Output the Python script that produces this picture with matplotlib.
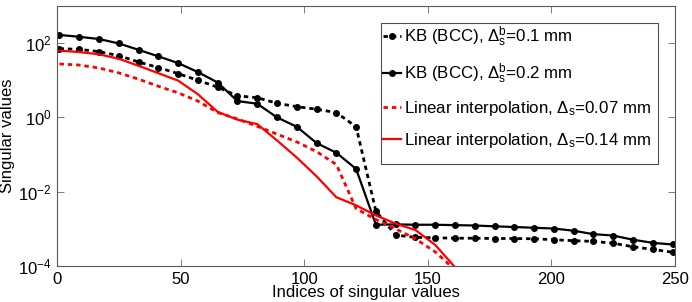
import numpy as np
import matplotlib
matplotlib.use("Agg")
import matplotlib.pyplot as plt
from matplotlib.patches import Rectangle

plt.rcParams['font.family'] = ['Liberation Sans', 'DejaVu Sans']
plt.rcParams['mathtext.default'] = 'regular'
plt.rcParams['font.size'] = 11

# indices (every 8th singular value)
idx_kb = list(range(1, 250, 8))
idx_lin = list(range(1, 162, 8))

kb_01 = [71, 68, 59, 46, 31, 22, 15.1, 10, 6.5, 3.8, 3.4, 2.4, 1.95, 1.66,
         1.35, 0.56, 3.0e-3, 6.8e-4, 5.9e-4, 5.75e-4, 5.6e-4, 5.6e-4, 5.5e-4,
         5.5e-4, 5.4e-4, 5.1e-4, 4.8e-4, 4.6e-4, 4.1e-4, 3.3e-4, 2.8e-4, 2.35e-4]
kb_02 = [166, 148, 129, 98, 66, 44, 29, 16.6, 8.7, 2.75, 2.34, 1.0, 0.56,
         0.204, 0.112, 0.041, 1.29e-3, 1.32e-3, 1.29e-3, 1.29e-3, 1.26e-3,
         1.23e-3, 1.17e-3, 1.12e-3, 1.07e-3, 1.02e-3, 8.9e-4, 7.2e-4, 6.6e-4,
         5.1e-4, 4.2e-4, 3.8e-4]
lin_007 = [27.5, 25.7, 21.4, 15.8, 10.7, 6.9, 4.6, 2.75, 1.35, 0.91, 0.575,
           0.355, 0.219, 0.12, 0.054, 3.5e-3, 1.78e-3, 1.0e-3, 5.4e-4, 2.4e-4,
           7.9e-5]
lin_014 = [63, 57.5, 50, 38, 24.5, 15.5, 9.8, 4.2, 1.41, 0.87, 0.66, 0.24,
           0.083, 0.026, 7.1e-3, 4.3e-3, 2.3e-3, 1.38e-3, 9.3e-4, 3.7e-4, 9.3e-5]

labels = [r'KB (BCC), $\Delta_s^b$=0.1 mm',
          r'KB (BCC), $\Delta_s^b$=0.2 mm',
          r'Linear interpolation, $\Delta_s$=0.07 mm',
          r'Linear interpolation, $\Delta_s$=0.14 mm']

fig = plt.figure(figsize=(6.92, 3.02), dpi=100)
ax = fig.add_axes([0.0824, 0.1192, 0.893, 0.861])

dots = (0, (1.6, 1.4))
ax.semilogy(idx_kb, kb_01, color='k', ls=dots, lw=2, marker='o', ms=4,
            label=labels[0])
ax.semilogy(idx_kb, kb_02, color='k', ls='-', lw=1.6, marker='o', ms=4,
            label=labels[1])
ax.semilogy(idx_lin, lin_007, color='red', ls=dots, lw=2, label=labels[2])
ax.semilogy(idx_lin, lin_014, color='red', ls='-', lw=1.6, label=labels[3])

ax.set_xlim(0, 250)
ax.set_ylim(1e-4, 1e3)
ax.set_xticks([0, 50, 100, 150, 200, 250])
ax.set_yticks([1e-4, 1e-2, 1e0, 1e2])
ax.minorticks_off()
ax.tick_params(direction='in', top=True, right=True, length=5, width=0.6,
               color='0.4', labelsize=12, pad=4)
for sp in ax.spines.values():
    sp.set_color('0.35')
    sp.set_linewidth(0.8)

ax.set_xlabel('Indices of singular values', fontsize=12, labelpad=-1)
ax.set_ylabel('Singular values', fontsize=12, labelpad=2)

# legend box drawn separately (MATLAB style, text sits high in the box)
box = Rectangle((0.525, 0.392), 0.4475, 0.544, transform=ax.transAxes,
                facecolor='white', edgecolor='0.3', lw=0.8, zorder=4)
ax.add_patch(box)
leg = ax.legend(loc='upper left', bbox_to_anchor=(0.527, 0.93),
                fontsize=12.2, numpoints=1, handlelength=1.1,
                handletextpad=0.15, labelspacing=0.76, borderpad=0,
                frameon=False, borderaxespad=0)
leg.set_zorder(5)

fig.savefig('out.png', dpi=100)
